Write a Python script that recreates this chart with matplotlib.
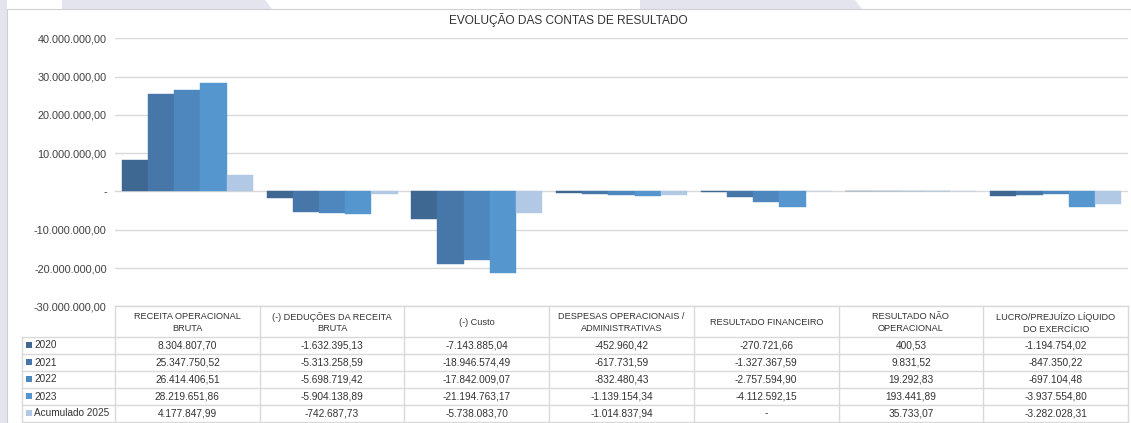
import matplotlib.pyplot as plt
from matplotlib.patches import Polygon, Rectangle
import numpy as np

plt.rcParams['font.family'] = ['Liberation Sans', 'DejaVu Sans']

categories = ["RECEITA OPERACIONAL\nBRUTA", "(-) DEDUÇÕES DA RECEITA\nBRUTA", "(-) Custo",
              "DESPESAS OPERACIONAIS /\nADMINISTRATIVAS", "RESULTADO FINANCEIRO",
              "RESULTADO NÃO\nOPERACIONAL", "LUCRO/PREJUÍZO LÍQUIDO\nDO EXERCÍCIO"]
series_names = ["2020", "2021", "2022", "2023", "Acumulado 2025"]

v2020 = [8304807.70, -1632395.13, -7143885.04, -452960.42, -270721.66, 400.53, -1194754.02]
v2021 = [25347750.52, -5313258.59, -18946574.49, -617731.59, -1327367.59, 9831.52, -847350.22]
v2022 = [26414406.51, -5698719.42, -17842009.07, -832480.43, -2757594.90, 19292.83, -697104.48]
v2023 = [28219651.86, -5904138.89, -21194763.17, -1139154.34, -4112592.15, 193441.89, -3937554.80]
v2025 = [4177847.99, -742687.73, -5738083.70, -1014837.94, 0.0, 35733.07, -3282028.31]
series = [v2020, v2021, v2022, v2023, v2025]

colors = ["#3e6892", "#4677a8", "#4e87bd", "#5596cf", "#b1c9e5"]
yticks = [-30e6, -20e6, -10e6, 0, 10e6, 20e6, 30e6, 40e6]


def fmt_br(v):
    if v == 0:
        return "-"
    s = f"{v:,.2f}"
    return s.replace(",", "X").replace(".", ",").replace("X", ".")


W, H = 1131, 423
fig = plt.figure(figsize=(W / 100, H / 100), dpi=100)
fig.patch.set_facecolor("white")

# background watermark / frame
bg = fig.add_axes([0, 0, 1, 1], zorder=-5)
bg.set_xlim(0, W)
bg.set_ylim(H, 0)
bg.axis("off")
lav = "#e4e4ee"
bg.add_patch(Rectangle((0, 0), 7, H, color=lav, lw=0))
bg.add_patch(Polygon([(62, 0), (265, 0), (272, 9), (62, 9)], color=lav, lw=0))
bg.add_patch(Polygon([(640, 0), (855, 0), (862, 9), (640, 9)], color=lav, lw=0))
bg.add_patch(Rectangle((7, 9), W - 7, H - 9, facecolor="white", edgecolor="#d0d0d0", lw=0.8))

# bar axes
left_px, right_px = 115, 1128
top_px, bot_px = 38.3, 306.3
ax = fig.add_axes([left_px / W, 1 - bot_px / H, (right_px - left_px) / W, (bot_px - top_px) / H])
ax.set_facecolor("none")
n_cat = len(categories)
x = np.arange(n_cat)
group_w = 131 / 144.7
bw = group_w / len(series)
for i, (name, vals, c) in enumerate(zip(series_names, series, colors)):
    ax.bar(x - group_w / 2 + bw * (i + 0.5), vals, width=bw, color=c, label=name, zorder=3,
           edgecolor=c, linewidth=0.3)
ax.set_xlim(-0.5, n_cat - 0.5)
ax.set_ylim(-30e6, 40e6)
ax.set_yticks(yticks)
ax.set_yticklabels([fmt_br(t) for t in yticks], fontsize=7.8, color="#404040")
ax.tick_params(axis="y", length=0, pad=6)
ax.set_xticks([])
ax.grid(axis="y", color="#d9d9d9", linewidth=1)
for s in ax.spines.values():
    s.set_visible(False)

fig.text(568 / W, 1 - 20 / H, "EVOLUÇÃO DAS CONTAS DE RESULTADO", ha="center", va="center",
         fontsize=8.6, color="#333333")

# data table
tb = fig.add_axes([0, 0, 1, 1], zorder=5)
tb.set_xlim(0, W)
tb.set_ylim(H, 0)
tb.axis("off")
lc = "#d9d9d9"
col_w = (right_px - left_px) / n_cat
head_top, head_bot, row_h = bot_px, 337, 17
leg_left = 22
n_rows = len(series)
table_bot = head_bot + row_h * n_rows
for k in range(n_cat + 1):
    xx = left_px + k * col_w
    tb.plot([xx, xx], [head_top, table_bot], color=lc, lw=1)
tb.plot([leg_left, leg_left], [head_bot, table_bot], color=lc, lw=1)
tb.plot([left_px, right_px], [head_top, head_top], color=lc, lw=1)
for r in range(n_rows + 1):
    yy = head_bot + r * row_h
    tb.plot([leg_left, right_px], [yy, yy], color=lc, lw=1)
for k, cat in enumerate(categories):
    tb.text(left_px + (k + 0.5) * col_w, (head_top + head_bot) / 2 + 1, cat, ha="center",
            va="center", fontsize=6.6, color="#333333", linespacing=1.4)
for r, (name, vals, c) in enumerate(zip(series_names, series, colors)):
    yc = head_bot + (r + 0.5) * row_h
    tb.add_patch(Rectangle((leg_left + 4, yc - 3), 6, 6, color=c, lw=0))
    tb.text(leg_left + 12, yc, name, ha="left", va="center", fontsize=7.2, color="#333333")
    for k, v in enumerate(vals):
        tb.text(left_px + (k + 0.5) * col_w, yc, fmt_br(v), ha="center", va="center",
                fontsize=7.3, color="#333333")

fig.savefig("out.png", dpi=100)
